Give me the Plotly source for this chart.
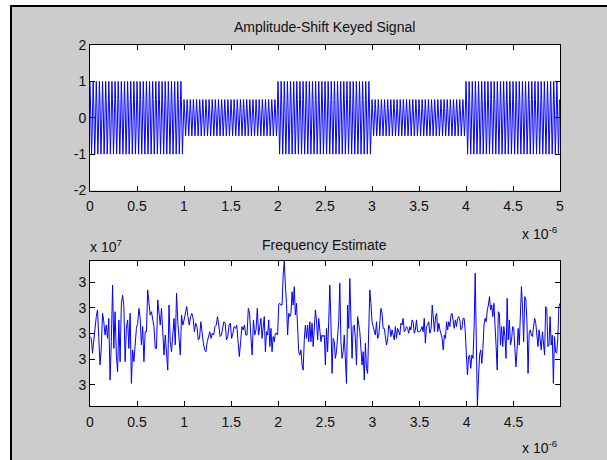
import numpy as np
import plotly.graph_objects as go

# ---- ASK signal -------------------------------------------------------
# one carrier period sampled six times, and the amplitude of each bit
carrier_cycle = [1.0, 0.5, -0.5, -1.0, -0.5, 0.5]
bit_amplitude = [1.0, 0.5, 1.0, 0.5, 1.0]
cycles_per_bit = 30
bit_period = 1e-6

# ---- frequency estimate (deviation from 30 MHz, kHz) -------------------
f_center_hz = 30e6
est_dev_a = [-12, -19, -77, -19, 33, 66, 92, -19, -123, -58, 79, 46, -6, 33, -19,
             59, -182, -32, 189, -58, 85, -84, -149, 53, -110, 118, 150, 105, -110, 20,
             53, -58, 79, -195, -64, -110, -45, 20, 40, 98, 59, -45, 27, -110, 7,
             7, 170, 124, 72, 85, 46, 27, -58, -58, 131, 72, 33, 98, -12, -84,
             -6, -97, -143, 111, -32, -71, -19, 59, -45, 157, 46, -32, -84, 72, 33]
est_dev_b = [53, 79, 105, 66, 33, 66, 79, 59, 7, 40, 27, -25, -19, 46, -12,
             -38, -64, -71, -32, -6, 7, -19, 1, -6, 27, 33, 66, 33, -12, -6,
             14, 46, 40, -25, -12, 33, 40, -19, 1, 27, 20, 33, -32, -90, -32,
             27, 14, 33, -6, -6, 98, 79, -12, -84, 53, -6, 14, 98, -6]
est_dev_c = [59, -19, 20, 66, -71, 7, -6, 53, -51, 20, -71, -12, -32, 1, 1,
             -6, 114, 118, 111, 111, 229, 283, 189, 118, -6, 79, 66, 79, 163, 111,
             183, 72, 118, 46, -71, -84, -64, -123, -143, -25, 33, -19, 33, -32, 46,
             -32, 40, -51, 14, 92, 53, -25, 59, 1, -32, -6, -12, -6, -123, 20,
             -71, 46, 189, 40, -156, -19, -32, -97, -71, -12, 46, 196, -32, -97, -71,
             -6, -90, -195, 111, 20, 215, 33, -97, 27, 33, -19, -123, 66, 33, 7,
             -58, -123, -71, -182, -38, -136, -156, -6, 170, 118, 46, 27, 14, -6, 46,
             -19, -12, 53, 98, 79, 20, 20, -6, -45, -25, 33, 20, -12, 14, -6,
             -25, 27, -19, 20, 1, -6, 40, 33, 59, 7, 14, 27, 20, 1, 27,
             14, 53, 46, 1, 14, 53, 7, 7, 7, 14, 27, 7, 59, -38, 27,
             33, 46, 1]
est_dev_d = [20, 111, 59, 7, 66, 79, 7, 40, 14, -6, -19, -64, -6, -19, 46,
             14, 46, 27, 72, 79, 53, 20, 53, 27, 59, 66, 53, 14, 20, 59,
             59, 7, -84, -162, -90, -84, -136, -84, -97, 20, 235, -32, -283, -175, -84,
             -64, -117, -58, 33, 59, 46, 92, 111, 144, 92, 111, 66, 118, -6, -51,
             -143, 85, 79, -45, 27, -51, 27, -12, -97, 137, -25, 53, -45, -25, 27,
             20, -58, -130, -64, 20, -45, 66, 183, 98, -32, 144, 131, 46, -156, 1,
             14, -6, -12, 27, 59, 40, -12, -51, 14, -32, -64, 7, -32, -84, 105,
             98, -51, -45, 66, -45, -6, -195, -12, -71, -77, -19, 105, 118]
# time span (microseconds) covered by each stretch of the estimate
est_span_us = [(0.000, 0.986), (1.000, 1.791), (1.816, 3.610), (3.624, 4.993)]

x_ticks_top = [0, 0.5, 1, 1.5, 2, 2.5, 3, 3.5, 4, 4.5, 5]
x_ticks_bot = [0, 0.5, 1, 1.5, 2, 2.5, 3, 3.5, 4, 4.5]
y_ticks_top = [-2, -1, 0, 1, 2]
y_ticks_bot_khz = [-200, -100, 0, 100, 200]

# ---- build series -------------------------------------------------------
sig = np.concatenate([a * np.tile(carrier_cycle, cycles_per_bit) for a in bit_amplitude])
dt = bit_period / (cycles_per_bit * len(carrier_cycle))
t_sig = np.arange(len(sig)) * dt

segments = [est_dev_a, est_dev_b, est_dev_c, est_dev_d]
t_est = np.concatenate([np.linspace(s0, s1, len(seg)) * 1e-6
                        for seg, (s0, s1) in zip(segments, est_span_us)])
f_est = f_center_hz + np.concatenate(segments) * 1e3

# ---- figure -------------------------------------------------------------
W, H = 607, 460
FONT = "Liberation Sans"
BLUE = "#0000FF"
GREY = "#CCCCCC"

def px(x):
    return x / W

def py(y):
    return 1 - y / H

fig = go.Figure()
fig.add_trace(go.Scatter(x=t_sig, y=sig, mode="lines",
                         line=dict(color=BLUE, width=1), xaxis="x", yaxis="y",
                         hoverinfo="skip"))
fig.add_trace(go.Scatter(x=t_est, y=f_est, mode="lines",
                         line=dict(color=BLUE, width=1), xaxis="x2", yaxis="y2",
                         hoverinfo="skip"))

axis_common = dict(showline=True, linecolor="black", linewidth=1, mirror="ticks",
                   ticks="inside", ticklen=5, tickcolor="black", tickwidth=1,
                   showgrid=False, zeroline=False,
                   tickfont=dict(family=FONT, size=14, color="#111"))

x_dom = [px(90), px(560)]
fig.update_layout(
    template="none",
    width=W, height=H,
    margin=dict(l=0, r=0, t=0, b=0),
    paper_bgcolor=GREY, plot_bgcolor="white",
    showlegend=False,
    xaxis=dict(domain=x_dom, anchor="y", range=[0, 5e-6], ticklabelstandoff=3,
               tickvals=[v * 1e-6 for v in x_ticks_top],
               ticktext=[f"{v:g}" for v in x_ticks_top], **axis_common),
    yaxis=dict(domain=[py(190.5), py(45)], anchor="x", range=[-2, 2],
               tickvals=y_ticks_top, ticktext=[f"{v:g}" for v in y_ticks_top],
               **axis_common),
    xaxis2=dict(domain=x_dom, anchor="y2", range=[0, t_est[-1]], ticklabelstandoff=3,
                tickvals=[v * 1e-6 for v in x_ticks_bot],
                ticktext=[f"{v:g}" for v in x_ticks_bot], **axis_common),
    yaxis2=dict(domain=[py(406), py(261)], anchor="x2",
                range=[f_est.min(), f_est.max()],
                tickvals=[f_center_hz + v * 1e3 for v in y_ticks_bot_khz],
                ticktext=["3"] * len(y_ticks_bot_khz), **axis_common),
)

txt = dict(family=FONT, size=14, color="#111")
fig.add_annotation(text="Amplitude-Shift Keyed Signal", x=px(325), y=py(27),
                   xref="paper", yref="paper", xanchor="center", yanchor="middle",
                   showarrow=False, font=txt)
fig.add_annotation(text="Frequency Estimate", x=px(325), y=py(245),
                   xref="paper", yref="paper", xanchor="center", yanchor="middle",
                   showarrow=False, font=txt)
fig.add_annotation(text="x 10<sup>-6</sup>", x=px(560), y=py(233),
                   xref="paper", yref="paper", xanchor="right", yanchor="middle",
                   showarrow=False, font=txt)
fig.add_annotation(text="x 10<sup>-6</sup>", x=px(560), y=py(447),
                   xref="paper", yref="paper", xanchor="right", yanchor="middle",
                   showarrow=False, font=txt)
fig.add_annotation(text="x 10<sup>7</sup>", x=px(88), y=py(246),
                   xref="paper", yref="paper", xanchor="left", yanchor="middle",
                   showarrow=False, font=txt)

# window frame: white page edge with a dark border round the grey figure
fig.add_shape(type="rect", xref="paper", yref="paper", x0=0, x1=px(10), y0=0, y1=1,
              fillcolor="white", line_width=0, layer="below")
fig.add_shape(type="rect", xref="paper", yref="paper", x0=0, x1=1, y0=py(5), y1=1,
              fillcolor="white", line_width=0, layer="below")
fig.add_shape(type="line", xref="paper", yref="paper", x0=px(11), x1=px(11),
              y0=0, y1=py(5), line=dict(color="black", width=2))
fig.add_shape(type="line", xref="paper", yref="paper", x0=px(10), x1=1,
              y0=py(6), y1=py(6), line=dict(color="black", width=2))

fig.write_html("out.html")
